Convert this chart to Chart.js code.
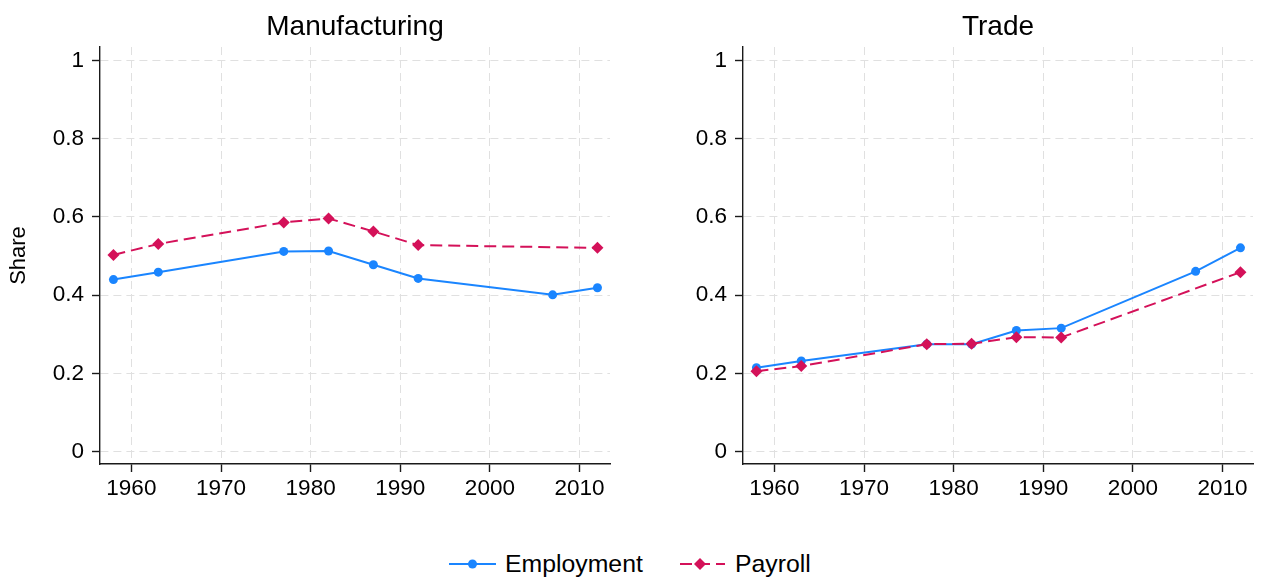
<!DOCTYPE html>
<html>
<head>
<meta charset="utf-8">
<script src="https://cdn.jsdelivr.net/npm/chart.js@4/dist/chart.umd.min.js"></script>
<style>
  html, body { margin: 0; padding: 0; background: #ffffff; }
  body {
    width: 1261px; height: 578px; position: relative; overflow: hidden;
    font-family: "Liberation Sans", Arial, sans-serif; color: #000;
  }
  canvas { position: absolute; top: 0; }
  #left { left: 0; }
  #right { left: 640px; }
  .key { position: absolute; top: 552px; height: 24px; }
  .key svg { position: absolute; top: 1px; }
  .key span { position: absolute; top: 0; font-size: 24.8px; line-height: 24px; white-space: nowrap; }
</style>
</head>
<body>
<canvas id="left" width="630" height="520"></canvas>
<canvas id="right" width="621" height="520"></canvas>

<div class="key" style="left:449px;">
  <svg width="48" height="22" viewBox="0 0 48 22">
    <line x1="0" y1="11" x2="47" y2="11" stroke="#1a85ff" stroke-width="2"/>
    <circle cx="23.5" cy="11" r="4.5" fill="#1a85ff"/>
  </svg>
  <span style="left:56px;">Employment</span>
</div>
<div class="key" style="left:680px;">
  <svg width="46" height="22" viewBox="0 0 46 22">
    <line x1="0" y1="11" x2="45" y2="11" stroke="#d41159" stroke-width="2" stroke-dasharray="12,6"/>
    <polygon points="20,5 26,11 20,17 14,11" fill="#d41159"/>
  </svg>
  <span style="left:55px;">Payroll</span>
</div>

<script>
// Census years and shares by sector
const years = [1958, 1963, 1977, 1982, 1987, 1992, 2007, 2012];
const mfgEmployment   = [0.440, 0.459, 0.512, 0.513, 0.478, 0.443, 0.401, 0.419];
const mfgPayroll      = [0.503, 0.531, 0.586, 0.596, 0.563, 0.528, null, 0.521];
const tradeEmployment = [0.215, 0.232, 0.275, 0.275, 0.310, 0.316, 0.461, 0.521];
const tradePayroll    = [0.206, 0.219, 0.275, 0.276, 0.293, 0.292, null, 0.459];

const yearTicks  = [1960, 1970, 1980, 1990, 2000, 2010];
const shareTicks = [0, 0.2, 0.4, 0.6, 0.8, 1];

const FONT = '"Liberation Sans", Arial, sans-serif';
const BLUE = '#1a85ff';
const CRIMSON = '#d41159';
const GRID = '#e0e0e0';
const AXIS = '#1a1a1a';
const TICK_SIZE = 22.5;

const toPoints = (vals) => years.map((x, i) => ({ x, y: vals[i] }));

// Panel heading centred over the plot region
const panelTitle = {
  id: 'panelTitle',
  afterDraw(chart, args, opts) {
    const { ctx, chartArea } = chart;
    ctx.save();
    ctx.font = `${opts.size}px ${FONT}`;
    ctx.fillStyle = '#000';
    ctx.textAlign = 'center';
    ctx.textBaseline = 'alphabetic';
    ctx.fillText(opts.text, (chartArea.left + chartArea.right) / 2, opts.y);
    ctx.restore();
  }
};

function makePanel(id, title, emp, pay, yTitle, yWidth, padRight) {
  const gridCommon = {
    color: GRID, lineWidth: 1,
    tickColor: AXIS, tickWidth: 1.4, tickLength: 8, tickBorderDash: []
  };
  const borderCommon = { color: AXIS, width: 1.4, dash: [8, 5] };
  return new Chart(document.getElementById(id), {
    type: 'line',
    data: {
      datasets: [
        {
          label: 'Employment',
          data: toPoints(emp),
          borderColor: BLUE, backgroundColor: BLUE,
          borderWidth: 2, pointStyle: 'circle', pointRadius: 4.5,
          pointBorderWidth: 0, pointBackgroundColor: BLUE,
          tension: 0, order: 1
        },
        {
          label: 'Payroll',
          data: toPoints(pay),
          borderColor: CRIMSON, backgroundColor: CRIMSON,
          borderWidth: 2, borderDash: [12, 6],
          pointStyle: 'rectRot', pointRadius: 6,
          pointBorderWidth: 0, pointBackgroundColor: CRIMSON,
          tension: 0, spanGaps: true, order: 0
        }
      ]
    },
    options: {
      responsive: false,
      animation: false,
      devicePixelRatio: 1,
      layout: { padding: { top: 47, right: padRight, bottom: 16, left: 0 } },
      plugins: {
        legend: { display: false },
        tooltip: { enabled: false },
        panelTitle: { text: title, size: 28, y: 35 }
      },
      scales: {
        x: {
          type: 'linear',
          min: 1956.5, max: 2013.4,
          afterBuildTicks: (s) => { s.ticks = yearTicks.map(v => ({ value: v })); },
          afterFit: (s) => { s.height = 40; },
          ticks: {
            callback: (v) => String(v),
            font: { family: FONT, size: TICK_SIZE }, color: '#000',
            padding: 3, maxRotation: 0, autoSkip: false
          },
          grid: gridCommon,
          border: borderCommon
        },
        y: {
          min: -0.031, max: 1.034,
          afterBuildTicks: (s) => { s.ticks = shareTicks.map(v => ({ value: v })); },
          afterFit: (s) => { s.width = yWidth; },
          ticks: {
            callback: (v) => String(v),
            font: { family: FONT, size: TICK_SIZE }, color: '#000',
            padding: 8, autoSkip: false
          },
          title: {
            display: !!yTitle, text: yTitle || '',
            font: { family: FONT, size: 22 }, color: '#000',
            padding: { top: 6, bottom: 0 }
          },
          grid: gridCommon,
          border: borderCommon
        }
      }
    },
    plugins: [panelTitle]
  });
}

makePanel('left', 'Manufacturing', mfgEmployment, mfgPayroll, 'Share', 100, 20);
makePanel('right', 'Trade', tradeEmployment, tradePayroll, null, 103, 8);
</script>
</body>
</html>
